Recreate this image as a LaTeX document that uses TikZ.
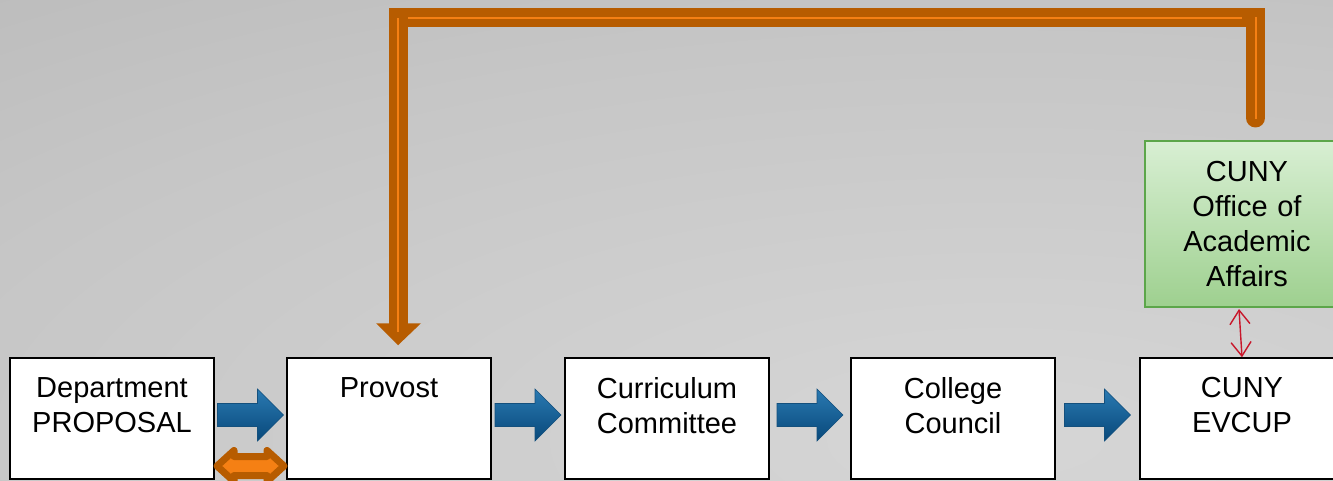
\documentclass[tikz,border=0pt]{standalone}
\usepackage{fontspec}
\setmainfont{Liberation Sans}
\usetikzlibrary{calc,arrows.meta}
\definecolor{bgA}{RGB}{214,214,214}
\definecolor{bgB}{RGB}{198,198,198}
\definecolor{bgC}{RGB}{187,187,187}
\definecolor{bgD}{RGB}{166,166,166}
\definecolor{bgE}{RGB}{160,160,160}
\definecolor{blueTop}{RGB}{42,122,178}
\definecolor{blueBot}{RGB}{8,72,122}
\definecolor{blueEdge}{RGB}{20,80,125}
\definecolor{orDark}{RGB}{183,92,0}
\definecolor{orBright}{RGB}{245,128,20}
\definecolor{grTop}{RGB}{216,239,211}
\definecolor{grBot}{RGB}{158,208,143}
\definecolor{grEdge}{RGB}{92,166,74}
\definecolor{redArr}{RGB}{200,22,42}
\pgfdeclareradialshading{bgshade}{\pgfpointorigin}{color(0bp)=(bgA); color(13bp)=(bgB); color(20bp)=(bgC); color(30bp)=(bgD); color(50bp)=(bgE)}
\newcommand\boxtext[1]{\begin{minipage}[c][121pt][t]{204pt}\centering\vspace*{19.5pt}#1\end{minipage}}
\newcommand\bluearrow[2]{%
  \shadedraw[bluearr] let \p1=($(#1.east)!0.5!(#2.west)$) in
   (\x1-33pt,\y1+15pt) -- (\x1+7pt,\y1+15pt) -- (\x1+7pt,\y1+29.5pt) --
   (\x1+33pt,\y1+3.5pt) -- (\x1+7pt,\y1-22.5pt) -- (\x1+7pt,\y1-8pt) --
   (\x1-33pt,\y1-8pt) -- cycle;}
\begin{document}
\begin{tikzpicture}[x=1pt,y=-1pt,
  procbox/.style={draw=black, line width=1.5pt, fill=white, inner sep=0pt,
    font=\fontsize{29}{35}\selectfont},
  greenbox/.style={draw=grEdge, line width=2pt, top color=grTop, bottom color=grBot,
    minimum width=204pt, minimum height=166pt, text width=200pt, align=center,
    inner sep=0pt, font=\fontsize{29}{35}\selectfont},
  bluearr/.style={draw=blueEdge, line width=0.6pt, top color=blueTop, bottom color=blueBot},
  orangedbl/.style={draw=orDark, fill=orBright, line width=7pt, line join=round},
  ortop/.style={draw=orDark, line width=19pt, line cap=round, line join=miter},
  orbright/.style={draw=orBright, line width=2.5pt},
  redarr/.style={draw=redArr, line width=1.4pt, {Straight Barb[length=14pt,width=20pt]}-{Straight Barb[length=14pt,width=20pt]}}
]
\clip (0,0) rectangle (1333,481);
\fill[bgD] (0,0) rectangle (1333,481);
\shade[shading=bgshade] (-1133,-330) rectangle (3133,1210);

\node[procbox] (dept) at (112,418.5) {\boxtext{Department\\PROPOSAL}};
\node[procbox] (prov) at (389,418.5) {\boxtext{Provost}};
\node[procbox] (curr) at (667,418.5) {\boxtext{Curriculum\\Committee}};
\node[procbox] (coll) at (953,418.5) {\boxtext{College\\Council}};
\node[procbox] (evcup) at (1242,418.5) {\boxtext{CUNY\\EVCUP}};
\node[greenbox] (ocaa) at (1247,224) {CUNY\\Office of\\Academic\\Affairs};

\bluearrow{dept}{prov}
\bluearrow{prov}{curr}
\bluearrow{curr}{coll}
\bluearrow{coll}{evcup}

% top orange connector
\coordinate (s) at ($(ocaa.north)+(8.5,-22)$);
\coordinate (e) at ($(prov.north)+(9,-34)$);
\coordinate (t) at (0,18);
\draw[ortop] (s) -- (s|-t) -- (e|-t) -- (e);
\fill[orDark] ($(e)+(-22,0)$) -- ($(e)+(23,0)$) -- ($(prov.north)+(9,-12)$) -- cycle;
\draw[orbright] ($(s|-t)+(-14,0)$) -- ($(e|-t)+(10,0)$);
\draw[orbright] ($(s)+(0.5,1)$) -- ($(s|-t)+(0.5,-1)$);
\draw[orbright] (e|-t) -- ($(e)+(0,9)$);

% orange double arrow
\filldraw[orangedbl] let \p1=($(dept.east)!0.5!(prov.west)$) in
  (\x1-33.5pt,\y1-47.5pt) -- (\x1-16.5pt,\y1-32pt) -- (\x1-16.5pt,\y1-38pt) --
  (\x1+16.5pt,\y1-38pt) -- (\x1+16.5pt,\y1-32pt) -- (\x1+33.5pt,\y1-47.5pt) --
  (\x1+16.5pt,\y1-63pt) -- (\x1+16.5pt,\y1-57pt) -- (\x1-16.5pt,\y1-57pt) --
  (\x1-16.5pt,\y1-63pt) -- cycle;

% red double arrow
\draw[redarr] ($(ocaa.south)+(-8,1)$) -- ($(evcup.north)+(0,0)$);
\end{tikzpicture}
\end{document}
